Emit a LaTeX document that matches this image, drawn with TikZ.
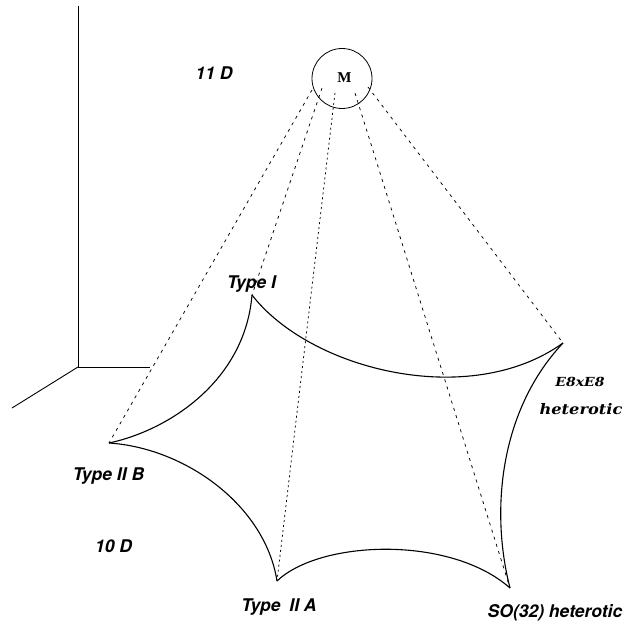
\documentclass[tikz,border=0pt]{standalone}
\usepackage{fontspec}
\newfontfamily\heros{TeX Gyre Heros}
\newfontfamily\dvserif{DejaVu Serif}
\newfontfamily\libserif{Liberation Serif}
\begin{document}
\begin{tikzpicture}[x=1pt,y=-1pt,
  edge/.style={line width=1.1pt},
  axis/.style={line width=0.9pt},
  ray/.style={line width=0.75pt, dash pattern=on 3pt off 4.5pt},
  rayfine/.style={line width=0.75pt, dash pattern=on 2pt off 3pt},
  lab/.style={font=\heros\bfseries\itshape\fontsize{17.5}{20}\selectfont, inner sep=0pt, anchor=base},
  slab/.style={font=\dvserif\bfseries\itshape\fontsize{14.5}{16}\selectfont, inner sep=0pt, anchor=base},
  mnode/.style={circle, draw, line width=0.8pt, minimum size=60pt, inner sep=0pt}]
\useasboundingbox (0,0) rectangle (630,626);

% axes
\coordinate (O) at (78,367);
\coordinate (Oz) at (78,6);
\coordinate (Ox) at (150,367);
\coordinate (Oy) at (12,408);
\draw[axis] (Oz) -- (O) -- (Ox);
\draw[axis] (O) -- (Oy);

% vertices
\coordinate (TI) at (252,295);
\coordinate (E8) at (563,343);
\coordinate (IIB) at (109,443);
\coordinate (IIA) at (277,581);
\coordinate (SO) at (510,588);

% M circle
\node[mnode] (M) at (342,78.5) {};
\node[inner sep=0pt, anchor=base, font=\libserif\bfseries\fontsize{15}{16}\selectfont] (Mlab) at (344.5,83) {M};

% ray starts
\coordinate (sIIB) at (312,90);
\coordinate (sTI) at (322,88);
\coordinate (sIIA) at (335,93);
\coordinate (sSO) at (355,93);
\coordinate (sE8) at (368,87);

\draw[ray] (sIIB) -- (IIB);
\draw[ray] (sTI) -- (TI);
\draw[rayfine] (sIIA) -- (IIA);
\draw[ray] (sSO) -- (SO);
\draw[ray] (sE8) -- (E8);

% curved edges
\draw[edge] (TI) .. controls (310,370) and (470,410) .. (E8);
\draw[edge] (E8) .. controls (500,410) and (490,510) .. (SO);
\draw[edge] (IIA) .. controls (320,540) and (450,535) .. (SO);
\draw[edge] (IIB) .. controls (185,448) and (265,505) .. (IIA);
\draw[edge] (IIB) .. controls (170,430) and (245,380) .. (TI);

% labels
\node[lab] (l11) at (214,80) {11 D};
\node[lab] (l10) at (113.5,552) {10 D};
\node[lab] (lTI) at (251.5,288) {Type I};
\node[lab] (lIIB) at (108.5,480) {Type II B};
\node[lab] (lIIA) at (279,611) {Type\hspace{0.5em}II A};
\node[lab] (lSO) at (555,617) {SO(32) heterotic};
\node[slab, font=\dvserif\bfseries\itshape\fontsize{12.5}{14}\selectfont] (lE8) at (580,386) {\scalebox{1.12}[1]{E8xE8}};
\node[slab] (lhet) at (581,414) {\scalebox{1.12}[1]{heterotic}};
\end{tikzpicture}
\end{document}
